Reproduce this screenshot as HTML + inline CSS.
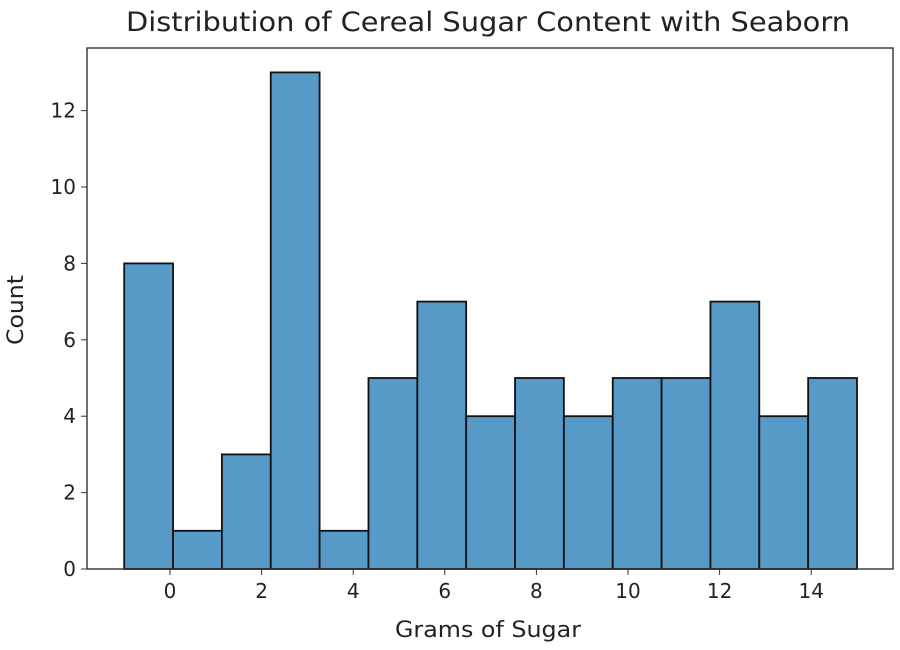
<!DOCTYPE html>
<html><head><meta charset="utf-8"><style>
html,body{margin:0;padding:0;background:#fff;}
svg{display:block;font-family:"DejaVu Sans","Liberation Sans",sans-serif;}
</style></head><body>
<svg id="chart" width="900" height="650">
<text x="488" y="31" text-anchor="middle" font-size="27" fill="#222" textLength="724" lengthAdjust="spacingAndGlyphs">Distribution of Cereal Sugar Content with Seaborn</text>
<text x="488" y="637" text-anchor="middle" font-size="22" fill="#222" textLength="186" lengthAdjust="spacingAndGlyphs">Grams of Sugar</text>
<text x="23" y="310" text-anchor="middle" font-size="22" fill="#222" textLength="70" lengthAdjust="spacingAndGlyphs" transform="rotate(-90 23 310)">Count</text>
<g id="bars"></g>
<g id="axes"></g>
</svg>
<script>
const counts = [8,1,3,13,1,5,7,4,5,4,5,5,7,4,5];
const binMin = -1;
const binMax = 15;
const xTicks = [0,2,4,6,8,10,12,14];
const yTicks = [0,2,4,6,8,10,12];

const L=87,R=893,T=48,B=569;
const x = v => 170 + v*45.8;
const y = v => B - v*38.2;
const NS="http://www.w3.org/2000/svg";
const bars=document.getElementById('bars'), axes=document.getElementById('axes');
const w=(binMax-binMin)/counts.length;
counts.forEach((c,i)=>{
  const r=document.createElementNS(NS,'rect');
  const x0=x(binMin+i*w), x1=x(binMin+(i+1)*w);
  r.setAttribute('x',x0);r.setAttribute('y',y(c));
  r.setAttribute('width',x1-x0);r.setAttribute('height',B-y(c));
  r.setAttribute('fill','#5799c7');r.setAttribute('stroke','#111');r.setAttribute('stroke-width','1.8');
  
  
  bars.appendChild(r);
});
const frame=document.createElementNS(NS,'rect');
frame.setAttribute('x',L);frame.setAttribute('y',T);frame.setAttribute('width',R-L);frame.setAttribute('height',B-T);
frame.setAttribute('fill','none');frame.setAttribute('stroke','#333');frame.setAttribute('stroke-width','1.4');


axes.appendChild(frame);
xTicks.forEach(t=>{
  const l=document.createElementNS(NS,'line');
  l.setAttribute('x1',x(t));l.setAttribute('x2',x(t));l.setAttribute('y1',B);l.setAttribute('y2',B+6);l.setAttribute('stroke','#333');
  
  
  axes.appendChild(l);
  const tx=document.createElementNS(NS,'text');
  tx.setAttribute('x',x(t));tx.setAttribute('y',B+29);tx.setAttribute('text-anchor','middle');tx.setAttribute('font-size','20');tx.setAttribute('fill','#222');
  tx.textContent=t;
  
  
  axes.appendChild(tx);
});
yTicks.forEach(t=>{
  const l=document.createElementNS(NS,'line');
  l.setAttribute('x1',L-6);l.setAttribute('x2',L);l.setAttribute('y1',y(t));l.setAttribute('y2',y(t));l.setAttribute('stroke','#333');
  
  
  axes.appendChild(l);
  const tx=document.createElementNS(NS,'text');
  tx.setAttribute('x',L-11);tx.setAttribute('y',y(t)+7);tx.setAttribute('text-anchor','end');tx.setAttribute('font-size','20');tx.setAttribute('fill','#222');
  tx.textContent=t;
  
  
  axes.appendChild(tx);
});
</script>
</body></html>
